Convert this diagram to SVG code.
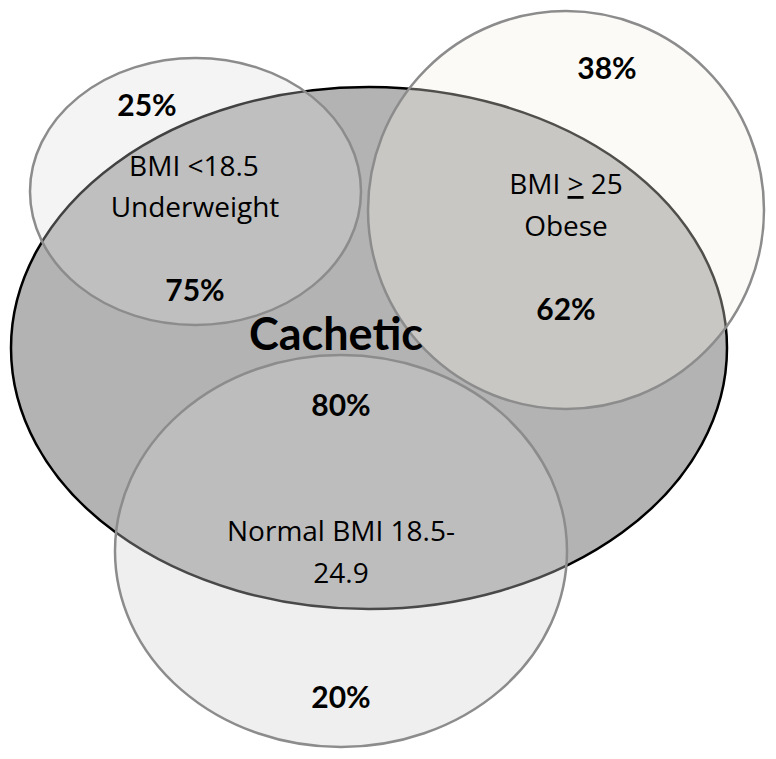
<svg xmlns="http://www.w3.org/2000/svg" width="776" height="759" viewBox="0 0 776 759">
<style>
text{font-family:Lato,"Open Sans","Liberation Sans",sans-serif;fill:#000;text-anchor:middle}
.b{font-weight:bold;font-size:30px}
.r{font-family:"Open Sans",Lato,"Liberation Sans",sans-serif;font-size:28px}
.big{font-weight:bold;font-size:45px}
.c{stroke:#8c8c8c;stroke-width:2.5}
</style>
<rect width="776" height="759" fill="#fff"/>
<g id="cachetic">
<ellipse cx="369" cy="348" rx="358" ry="261" fill="#b3b3b3" stroke="#000" stroke-width="2.5"/>
</g>
<g id="normal">
<ellipse class="c" cx="341" cy="551" rx="226" ry="196" fill="#d1d1d1" fill-opacity="0.35"/>
</g>
<g id="underweight">
<ellipse class="c" cx="195.5" cy="191.5" rx="165.5" ry="133.5" fill="#dcdcdc" fill-opacity="0.3"/>
</g>
<g id="obese">
<ellipse class="c" cx="566" cy="210" rx="198" ry="199" fill="#f2efe6" fill-opacity="0.33"/>
</g>
<g id="labels">
<text class="b" x="147" y="116">25%</text>
<text class="r" x="194" y="176">BMI &lt;18.5</text>
<text class="r" x="195" y="217">Underweight</text>
<text class="b" x="195" y="301">75%</text>
<text class="b" x="607" y="79">38%</text>
<text class="r" x="566" y="194">BMI <tspan text-decoration="underline">&gt;</tspan> 25</text>
<text class="r" x="566" y="236">Obese</text>
<text class="b" x="566" y="320">62%</text>
<text class="big" x="336" y="350">Cachetic</text>
<text class="b" x="341" y="416">80%</text>
<text class="r" x="341" y="541">Normal BMI 18.5-</text>
<text class="r" x="341" y="583">24.9</text>
<text class="b" x="341" y="708">20%</text>
</g>
</svg>
